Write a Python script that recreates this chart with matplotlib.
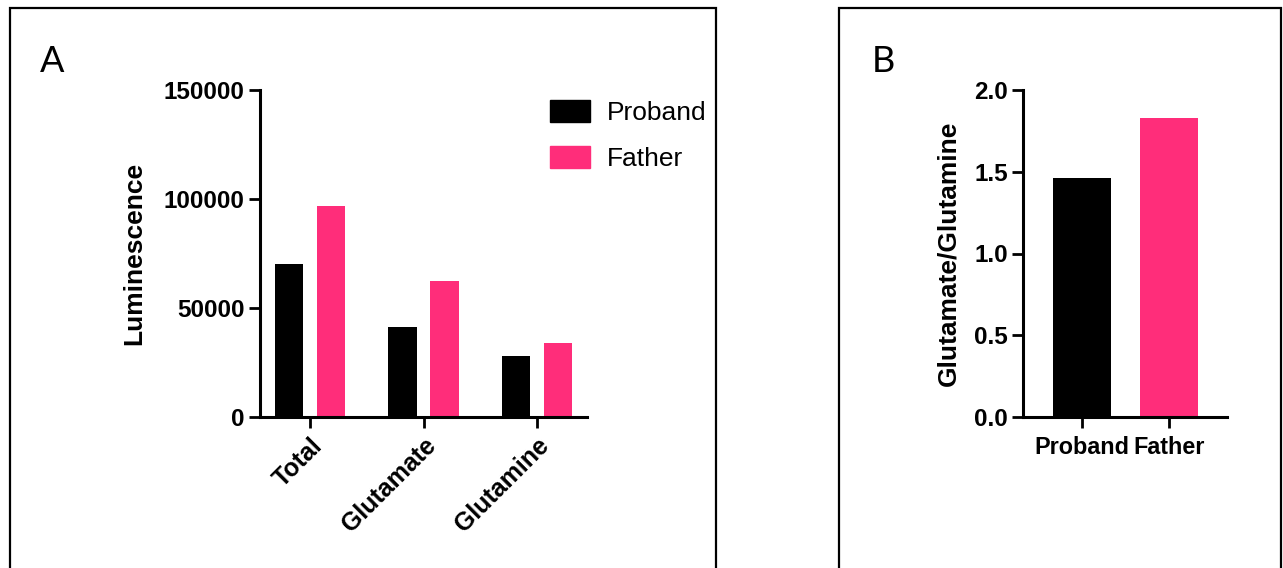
import matplotlib.pyplot as plt
from matplotlib.patches import Rectangle, Patch
import numpy as np

# panel A data
groups = ['Total', 'Glutamate', 'Glutamine']
proband = [70000, 41500, 28200]
father = [97000, 62500, 33800]

# panel B data
ratio_names = ['Proband', 'Father']
ratio_vals = [1.46, 1.83]

black = '#000000'
pink = '#FF2D7A'

plt.rcParams['font.family'] = ['Liberation Sans', 'DejaVu Sans']

W, H = 1283, 568
fig = plt.figure(figsize=(W / 100, H / 100), dpi=100)


def fx(px):
    return px / W


def fy(py):
    return 1 - py / H


# panel frames
fig.add_artist(Rectangle((fx(10), fy(600)), fx(706), (600 - 8) / H, transform=fig.transFigure,
                         fill=False, lw=1.6, ec='black', clip_on=False))
fig.add_artist(Rectangle((fx(839), fy(600)), fx(442), (600 - 8) / H, transform=fig.transFigure,
                         fill=False, lw=1.6, ec='black', clip_on=False))

fig.text(fx(40), fy(72), 'A', fontsize=26, family='Lato', va='baseline')
fig.text(fx(872), fy(72), 'B', fontsize=26, family='Lato', va='baseline')


def style(ax, xsize, xpad):
    for s in ['top', 'right']:
        ax.spines[s].set_visible(False)
    for s in ['left', 'bottom']:
        ax.spines[s].set_linewidth(2.2)
    ax.tick_params(width=2.0, length=8)
    ax.tick_params(axis='y', labelsize=17.5, pad=3)
    ax.tick_params(axis='x', labelsize=xsize, pad=xpad)
    for t in ax.get_xticklabels() + ax.get_yticklabels():
        t.set_fontweight('bold')


# panel A
axA = fig.add_axes([fx(260), fy(417), fx(587 - 260), (417 - 90) / H])
x = np.arange(len(groups))
bw = 0.247
off = 0.185
axA.bar(x - off, proband, bw, color=black, label='Proband')
axA.bar(x + off, father, bw, color=pink, label='Father')
axA.set_xlim(-0.44, 2.44)
axA.set_ylim(0, 150000)
axA.set_yticks([0, 50000, 100000, 150000])
axA.set_xticks(x)
axA.set_xticklabels(groups, rotation=45, ha='right', rotation_mode='anchor')
axA.set_ylabel('Luminescence', fontsize=19, fontweight='bold', labelpad=13)
style(axA, 18, 4)

handles = [Patch(color=black, label='Proband'), Patch(color=pink, label='Father')]
fig.legend(handles=handles, loc='upper left', bbox_to_anchor=(fx(550), fy(100)),
           frameon=False, fontsize=19, handlelength=1.5, handleheight=0.9,
           handletextpad=0.65, labelspacing=0.8, borderpad=0, borderaxespad=0)

# panel B
axB = fig.add_axes([fx(1023), fy(417), fx(1227 - 1023), (417 - 90) / H])
xb = np.arange(len(ratio_names))
axB.bar(xb, ratio_vals, 0.66, color=[black, pink])
axB.set_xlim(-0.67, 1.66)
axB.set_ylim(0, 2.0)
axB.set_yticks([0.0, 0.5, 1.0, 1.5, 2.0])
axB.set_yticklabels(['0.0', '0.5', '1.0', '1.5', '2.0'])
axB.set_xticks(xb)
axB.set_xticklabels(ratio_names)
axB.set_ylabel('Glutamate/Glutamine', fontsize=19, fontweight='bold', labelpad=10)
style(axB, 16.8, 6)

fig.savefig('out.png', dpi=100)
